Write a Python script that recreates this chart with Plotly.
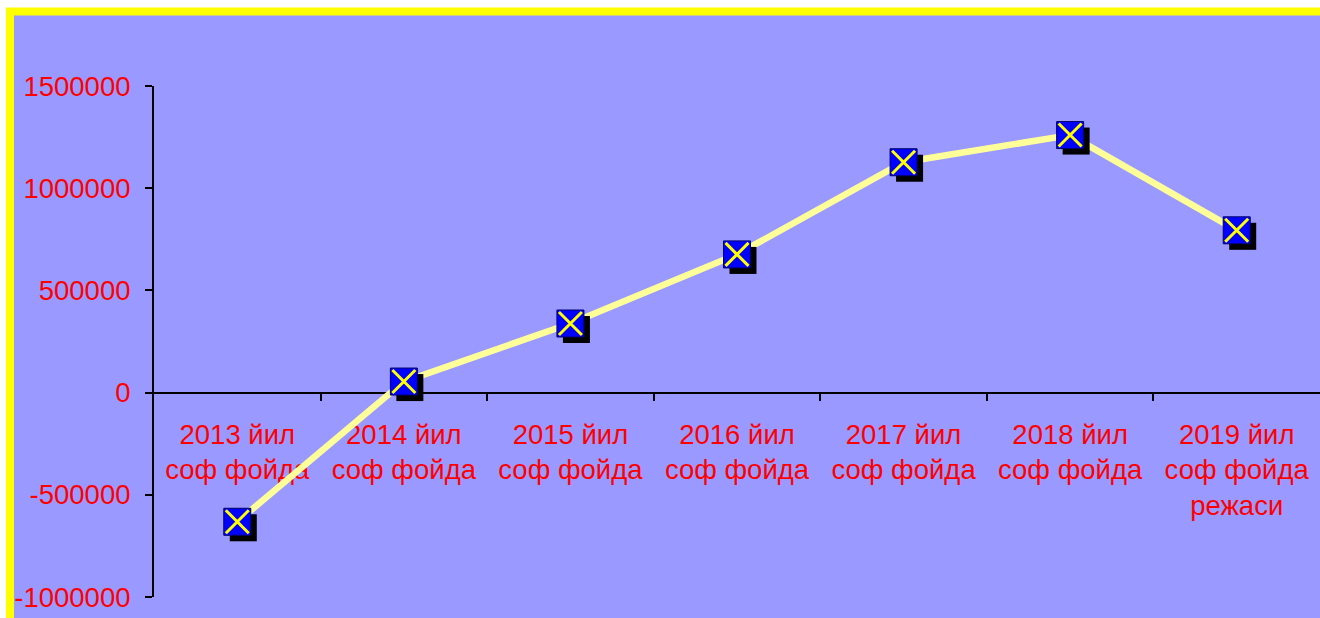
import plotly.graph_objects as go

categories = ["2013 йил<br>соф фойда", "2014 йил<br>соф фойда", "2015 йил<br>соф фойда",
              "2016 йил<br>соф фойда", "2017 йил<br>соф фойда", "2018 йил<br>соф фойда",
              "2019 йил<br>соф фойда<br>режаси"]
values = [-632000, 54000, 338000, 676000, 1127000, 1260000, 794000]
y_ticks = [-1000000, -500000, 0, 500000, 1000000, 1500000]

W, H = 1320, 618
ML, MR, MT, MB = 154, 0, 86, 21
ymin, ymax = -1000000, 1500000
xmin, xmax = -0.5, len(categories) - 0.5
plot_w = W - ML - MR
plot_h = H - MT - MB

xs = list(range(len(categories)))
# shadow offset (pixels -> data units)
sdx = 6 * (xmax - xmin) / plot_w
sdy = -6 * (ymax - ymin) / plot_h

FONT = "Arial, Liberation Sans, sans-serif"
FS = 27.5

fig = go.Figure()
fig.add_trace(go.Scatter(x=xs, y=values, mode="lines",
                         line=dict(color="#FFFF99", width=6.5), hoverinfo="skip"))
fig.add_trace(go.Scatter(x=[x + sdx for x in xs], y=[v + sdy for v in values], mode="markers",
                         marker=dict(symbol="square", size=27, color="#000000",
                                     line=dict(width=0)), hoverinfo="skip"))
fig.add_trace(go.Scatter(x=xs, y=values, mode="markers",
                         marker=dict(symbol="square", size=27, color="#0000FF",
                                     line=dict(color="#000066", width=1))))
fig.add_trace(go.Scatter(x=xs, y=values, mode="markers",
                         marker=dict(symbol="x-thin", size=23, color="#FFFF00",
                                     line=dict(color="#FFFF00", width=3)), hoverinfo="skip"))

# background panel with yellow frame
bx0 = (10 - ML) / plot_w
by1 = (MT + plot_h - 11.5) / plot_h
fig.add_shape(type="rect", xref="paper", yref="paper", x0=bx0, x1=1.2, y0=-0.3, y1=by1,
              fillcolor="#9999FF", line=dict(color="#FFFF00", width=8), layer="below")

fig.update_layout(
    width=W, height=H,
    margin=dict(l=ML, r=MR, t=MT, b=MB, pad=0),
    paper_bgcolor="white", plot_bgcolor="rgba(0,0,0,0)",
    showlegend=False,
    font=dict(family=FONT, color="#FF0000", size=FS),
    xaxis=dict(range=[xmin, xmax], tickvals=xs, ticktext=categories,
               showgrid=False, zeroline=False, showline=True, linecolor="black", linewidth=2,
               ticks="", anchor="free", position=(0 - ymin) / (ymax - ymin),
               tickfont=dict(color="#FF0000", size=FS, family=FONT),
               ticklabelstandoff=17, layer="below traces",
               minor=dict(tickvals=[x + 0.5 for x in xs[:-1]], ticks="outside", ticklen=7,
                          tickwidth=2, tickcolor="black", showgrid=False)),
    yaxis=dict(range=[ymin, ymax], tickvals=y_ticks, ticktext=[str(v) for v in y_ticks],
               showgrid=False, zeroline=False, showline=True, linecolor="black", linewidth=2,
               ticks="outside", ticklen=7, tickwidth=2, tickcolor="black",
               tickfont=dict(color="#FF0000", size=FS, family=FONT),
               ticklabelstandoff=9),
)

fig.write_html("out.html", config={"displayModeBar": False},
               post_script="document.body.style.margin='0';document.body.style.overflow='hidden';")
